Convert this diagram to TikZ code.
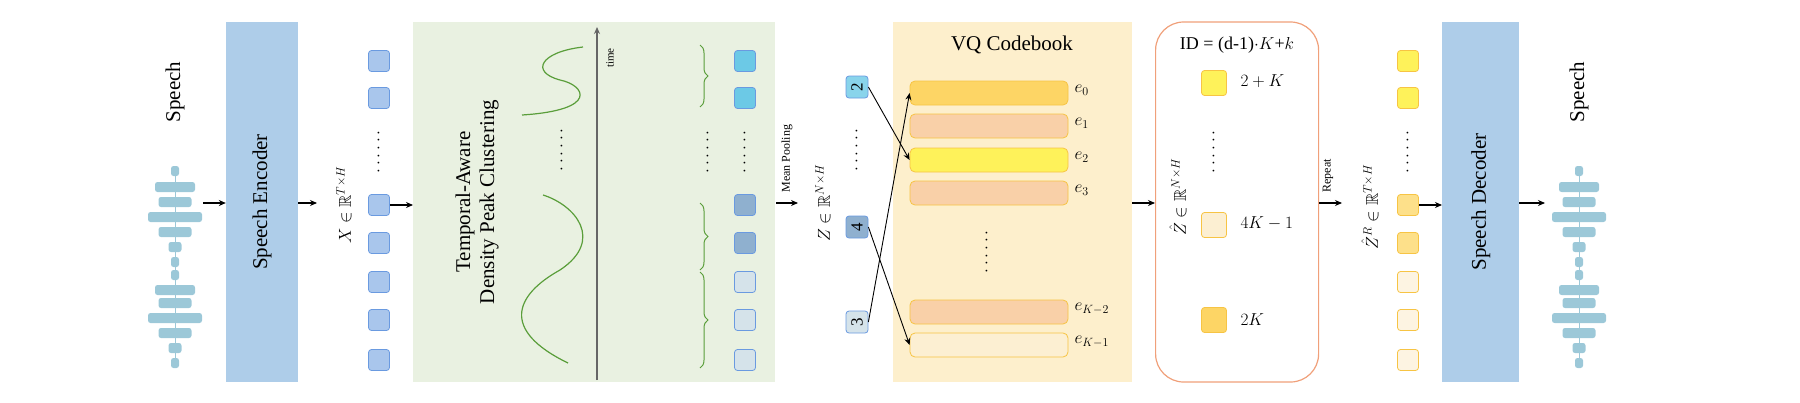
\documentclass[tikz,border=0pt]{standalone}
\usepackage{amssymb}
\usepackage{fontspec}
\setmainfont{Liberation Serif}
\usetikzlibrary{arrows.meta,decorations.pathreplacing}
\begin{document}
\begin{tikzpicture}[x=1pt,y=-1pt,
  arr/.style={-{Stealth[length=7pt,width=6pt]},line width=1.1pt},
  sq/.style={draw,rounded corners=3pt,minimum size=21pt,inner sep=0pt,line width=0.8pt},
  xs/.style={sq,fill=xblue,draw=xblueb},
  bar/.style={draw=barb,rounded corners=5pt,line width=0.8pt,minimum width=158pt,minimum height=24pt,inner sep=0pt},
  big/.style={font=\fontsize{21}{24}\selectfont},
  mid/.style={font=\fontsize{17}{20}\selectfont},
  dotsv/.style={font=\fontsize{18}{18}\selectfont,rotate=90},
  wave/.style={fill=wavec,rounded corners=2.5pt},
  br/.style={draw=curvec,line width=1pt,decorate,decoration={brace,amplitude=8pt}}]
\definecolor{xblue}{HTML}{A9C6EC}\definecolor{xblueb}{HTML}{6A9AE0}
\definecolor{encb}{HTML}{AECDE9}\definecolor{greenbg}{HTML}{E9F1E1}
\definecolor{curvec}{HTML}{5A9E3A}\definecolor{vqbg}{HTML}{FDEFCC}
\definecolor{barb}{HTML}{F7C444}\definecolor{wavec}{HTML}{9CC8D8}
\definecolor{cyanq}{HTML}{6CC9E6}\definecolor{steel}{HTML}{8FB0CF}\definecolor{pale}{HTML}{D5E3EA}
\definecolor{eA}{HTML}{FDD565}\definecolor{eB}{HTML}{F9D0A8}\definecolor{eC}{HTML}{FEF25A}\definecolor{eD}{HTML}{FCEFD2}
\definecolor{orb}{HTML}{F0A07A}\definecolor{rmid}{HTML}{FDE08A}\definecolor{rpale}{HTML}{FDF4E2}
\useasboundingbox (0,0) rectangle (1800,402);
% waveforms
\foreach \cx in {175,1579}{
  \draw[wavec,line width=0.6pt] (\cx,170) -- (\cx,366);
  \foreach \y/\w in {171/8,187/40,202/33,217/54,232/33,247/13,262/8,275/8,290/40,303/33,318/54,333/33,348/13,363/8}
    \fill[wavec,rounded corners=2.5pt] (\cx-\w/2,\y-5) rectangle (\cx+\w/2,\y+5);
}
\node[big,rotate=90] (sp1) at (175,92) {Speech};
\node[big,rotate=90] (sp2) at (1579,92) {Speech};
\coordinate (w1) at (203,203); \coordinate (w2) at (1545,203);
% encoder
\node[fill=encb,minimum width=72pt,minimum height=360pt,inner sep=0pt] (enc) at (262,202) {};
\node[big,rotate=90] at (enc) {Speech Encoder};
\draw[arr] (w1) -- (enc.west|-w1);
% X
\node[mid,rotate=90] (xl) at (344,205) {$X\in\mathbb{R}^{T\times H}$};
\foreach \i/\y in {1/61,2/98,3/205,4/243,5/282,6/320,7/360}
  \node[xs] (x\i) at (379,\y) {};
\node[dotsv] at (379,152) {$\cdots\cdots$};
\draw[arr] (enc.east|-w1) -- (317,203);
% green
\node[fill=greenbg,minimum width=362pt,minimum height=360pt,inner sep=0pt,anchor=west] (gr) at (413,202) {};
\draw[arr] (x3.east) -- (gr.west|-x3);
\node[big,rotate=90,align=center] at (477,202) {Temporal-Aware\\Density Peak Clustering};
\draw[curvec,line width=1.2pt] (522,115) .. controls (600,110) and (585,85) .. (560,80)
  .. controls (530,72) and (540,52) .. (583,47);
\draw[curvec,line width=1.2pt] (543,195) .. controls (575,205) and (605,240) .. (560,270)
  .. controls (515,295) and (500,330) .. (568,363);
\node[dotsv] at (562,150) {$\cdots\cdots$};
\coordinate (tb) at (597,380); \coordinate (tt) at (597,27);
\draw[-{Stealth[length=7pt,width=6pt]},gray!80!black,line width=1.3pt] (tb) -- (tt);
\node[rotate=90,font=\fontsize{11}{12}\selectfont] at (610,58) {time};
\draw[br] (700,45) -- (700,107);
\draw[br] (700,203) -- (700,270);
\draw[br] (700,272) -- (700,368);
\node[dotsv] at (708,152) {$\cdots\cdots$};
\foreach \i/\y/\c in {1/61/cyanq,2/98/cyanq,3/205/steel,4/243/steel,5/282/pale,6/320/pale,7/360/pale}
  \node[sq,fill=\c,draw=xblueb] (c\i) at (745,\y) {};
\node[dotsv] at (745,152) {$\cdots\cdots$};
\draw[arr] (776,203) -- (798,203);
\node[rotate=90,font=\fontsize{12}{13}\selectfont,anchor=west] at (787,196) {Mean Pooling};
% Z
\node[mid,rotate=90] at (823,203) {$Z\in\mathbb{R}^{N\times H}$};
\node[sq,minimum size=22pt,fill=cyanq!80,draw=xblueb,rotate=90,mid] (z2) at (857,87) {2};
\node[sq,minimum size=22pt,fill=steel,draw=xblueb,rotate=90,mid] (z4) at (857,227) {4};
\node[sq,minimum size=22pt,fill=pale,draw=xblueb,rotate=90,mid] (z3) at (857,322) {3};
\node[dotsv] at (857,150) {$\cdots\cdots$};
% VQ
\node[fill=vqbg,minimum width=239pt,minimum height=360pt,inner sep=0pt,anchor=west] (vq) at (893,202) {};
\node[big] at (1012,45) {VQ Codebook};
\foreach \n/\y/\c/\l in {e0/93/eA/0,e1/126/eB/1,e2/160/eC/2,e3/193/eB/3,ek2/312/eB/{K-2},ek1/345/eD/{K-1}}{
  \node[bar,fill=\c] (\n) at (989,\y) {};
  \node[mid,anchor=west] at (1071,\y-3) {$e_{\l}$};
}
\node[dotsv] at (987,252) {$\cdots\cdots$};
\draw[arr,line width=0.9pt] (z2.south) -- (e2.west);
\draw[arr,line width=0.9pt] (z4.south) -- (ek1.west);
\draw[arr,line width=0.9pt] (z3.south) -- (e0.west);
\draw[arr] (vq.east|-w1) -- (1155,203);
% ID box
\node[draw=orb,line width=1.2pt,rounded corners=28pt,minimum width=163pt,minimum height=360pt,anchor=west] (idb) at (1155,202) {};
\node[font=\fontsize{18}{20}\selectfont] at (1237,45) {ID = (d-1)$\cdot K$+$k$};
\node[mid,rotate=90] at (1178,197) {$\hat{Z}\in\mathbb{R}^{N\times H}$};
\node[sq,fill=eC,draw=barb,minimum size=25pt] (q1) at (1214,83) {};
\node[sq,fill=eD,draw=barb,minimum size=25pt] (q2) at (1214,225) {};
\node[sq,fill=eA,draw=barb,minimum size=25pt] (q3) at (1214,320) {};
\node[mid,anchor=west] at (1237,81) {$2+K$};
\node[mid,anchor=west] at (1237,223) {$4K-1$};
\node[mid,anchor=west] at (1237,320) {$2K$};
\node[dotsv] at (1214,152) {$\cdots\cdots$};
\draw[arr] (idb.east|-w1) -- (1342,203);
\node[rotate=90,font=\fontsize{12}{13}\selectfont,anchor=west] at (1328,196) {Repeat};
% ZR
\node[mid,rotate=90] at (1370,207) {$\hat{Z}^{R}\in\mathbb{R}^{T\times H}$};
\foreach \i/\y/\c in {1/61/eC,2/98/eC,3/205/rmid,4/243/rmid,5/282/rpale,6/320/rpale,7/360/rpale}
  \node[sq,fill=\c,draw=barb] (r\i) at (1408,\y) {};
\node[dotsv] at (1408,152) {$\cdots\cdots$};
% decoder
\node[fill=encb,minimum width=77pt,minimum height=360pt,inner sep=0pt,anchor=west] (dec) at (1442,202) {};
\node[big,rotate=90] at (dec) {Speech Decoder};
\draw[arr] (r3.east) -- (dec.west|-r3);
\draw[arr] (dec.east|-w1) -- (w2);
\end{tikzpicture}
\end{document}
